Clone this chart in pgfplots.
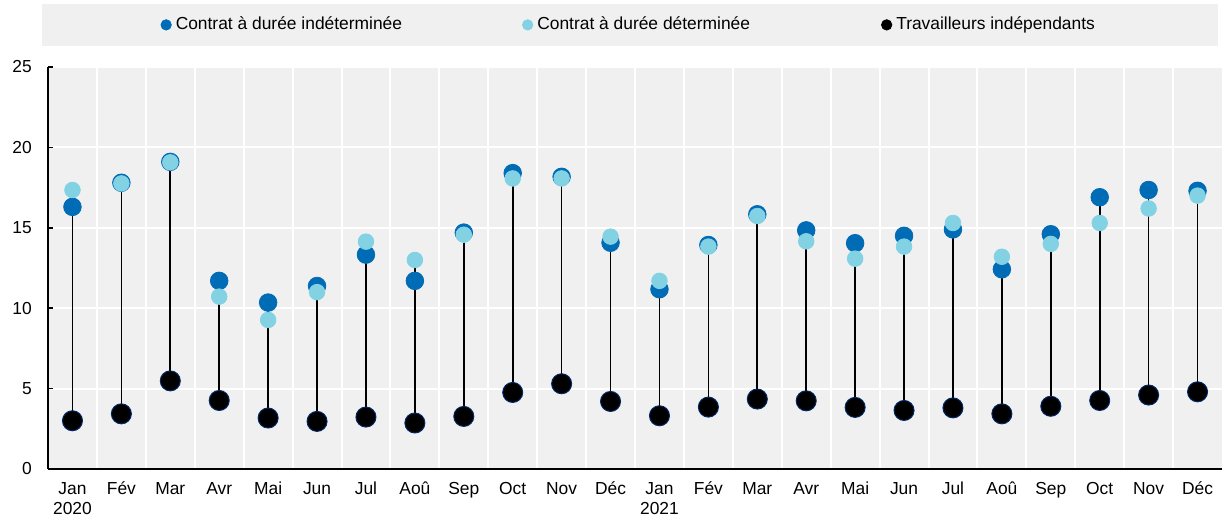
\documentclass[border=0pt]{standalone}
\usepackage{fontspec}
\setmainfont{Liberation Sans}
\usepackage{pgfplots}
\pgfplotsset{compat=1.18}
\usepackage{pgfplotstable}
\definecolor{cdi}{RGB}{0,108,182}
\definecolor{cdd}{RGB}{130,210,228}
\definecolor{tiedge}{RGB}{0,40,100}
\definecolor{bg}{RGB}{240,240,240}

\pgfplotstableread{
x cdi cdd ti
0 16.30 17.35 3.00
1 17.80 17.76 3.43
2 19.10 19.07 5.48
3 11.70 10.72 4.26
4 10.35 9.27 3.17
5 11.38 11.00 2.96
6 13.33 14.14 3.23
7 11.70 13.00 2.86
8 14.70 14.57 3.27
9 18.40 18.07 4.76
10 18.17 18.07 5.30
11 14.07 14.45 4.20
12 11.18 11.70 3.31
13 13.93 13.83 3.85
14 15.84 15.73 4.35
15 14.84 14.16 4.24
16 14.04 13.08 3.83
17 14.50 13.83 3.64
18 14.90 15.30 3.80
19 12.42 13.20 3.43
20 14.60 14.00 3.90
21 16.90 15.30 4.26
22 17.35 16.20 4.60
23 17.30 17.00 4.80
}\data

\begin{document}
\fontsize{8.7}{10.4}\selectfont
\begin{tikzpicture}
\begin{axis}[
  scale only axis, width=587pt, height=201pt,
  xmin=-0.5, xmax=23.5, ymin=0, ymax=25,
  axis background/.style={fill=bg},
  axis x line*=bottom, axis y line*=left,
  axis line style={black, line width=0.75pt},
  xtick={0,...,23},
  xticklabels={Jan\\2020,Fév,Mar,Avr,Mai,Jun,Jul,Aoû,Sep,Oct,Nov,Déc,Jan\\2021,Fév,Mar,Avr,Mai,Jun,Jul,Aoû,Sep,Oct,Nov,Déc},
  xticklabel style={align=center, yshift=-3.5pt},
  minor xtick={0.5,1.5,...,22.5},
  xminorgrids=true, ymajorgrids=true,
  minor grid style={white, line width=1pt},
  major grid style={white, line width=1pt},
  ytick={0,5,...,25},
  yticklabel style={xshift=-5pt},
  xtick style={draw=none},
  minor tick length=0pt,
  ytick style={black, line width=0.75pt},
  tick align=inside, major tick length=2.5pt,
  ticklabel style={font=\fontsize{8.7}{10.4}\selectfont},
  /pgf/number format/assume math mode=true,
  legend columns=3,
  legend style={at={(0.4955,1)}, anchor=south, yshift=10.5pt, fill=bg, draw=none,
    inner xsep=59.5pt, inner ysep=4.5pt, font=\fontsize{8.7}{10.4}\selectfont,
    /tikz/column 2/.style={column sep=58pt},
    /tikz/column 4/.style={column sep=63.5pt}},
  legend cell align=left,
]
\coordinate (sw) at (rel axis cs:0,0);
\coordinate (ne) at (rel axis cs:1,1);
\addplot[draw=none, mark=none, forget plot,
  error bars/.cd, y dir=plus, y explicit, error mark=none,
  error bar style={black, line width=0.8pt}]
  table[x=x, y=ti, y error expr={max(\thisrow{cdi},\thisrow{cdd})-\thisrow{ti}}] {\data};
\addplot[only marks, mark=*, mark size=4.4pt, mark options={fill=cdi, draw=cdi},
  legend image code/.code={\fill[cdi] (0pt,0pt) circle (2.6pt);}]
  table[x=x, y=cdi] {\data};
\addlegendentry{Contrat à durée indéterminée}
\addplot[only marks, mark=*, mark size=3.9pt, mark options={fill=cdd, draw=cdd},
  legend image code/.code={\fill[cdd] (0pt,0pt) circle (2.6pt);}]
  table[x=x, y=cdd] {\data};
\addlegendentry{Contrat à durée déterminée}
\addplot[only marks, mark=*, mark size=5pt, mark options={fill=black, draw=tiedge, line width=0.5pt},
  legend image code/.code={\fill[black] (0pt,0pt) circle (2.6pt);}]
  table[x=x, y=ti] {\data};
\addlegendentry{Travailleurs indépendants}
\end{axis}
\path ([shift={(-24pt,-26pt)}]sw) ([shift={(2pt,33.5pt)}]ne);
\end{tikzpicture}
\end{document}
